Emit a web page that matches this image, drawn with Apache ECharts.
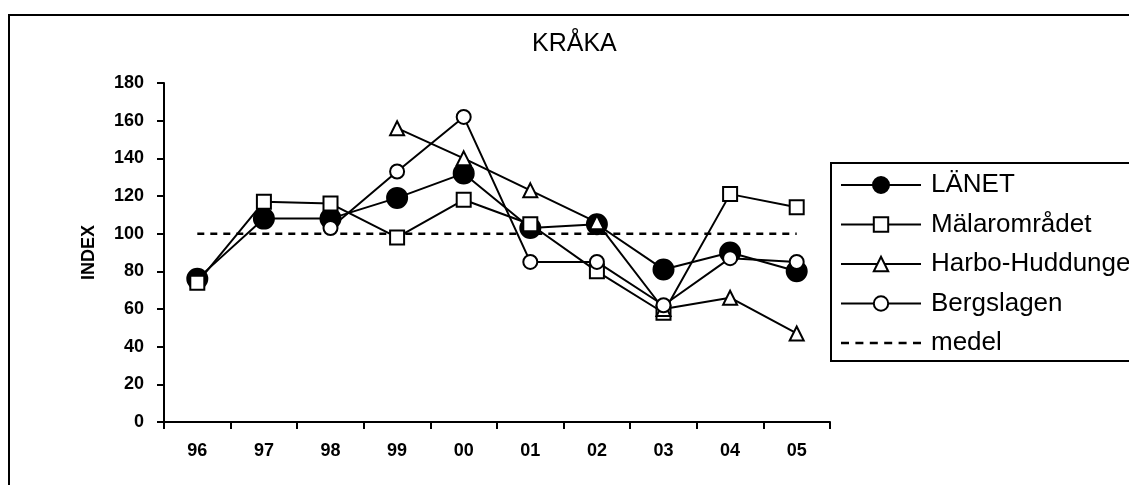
<!DOCTYPE html>
<html>
<head>
<meta charset="utf-8">
<script src="https://cdn.jsdelivr.net/npm/echarts@6/dist/echarts.min.js"></script>
<style>
  html, body { margin: 0; padding: 0; background: #fff; }
  #chart { width: 1129px; height: 485px; }
</style>
</head>
<body>
<div id="chart"></div>
<script>
// Year labels (two-digit) on the category axis
const years = ['96', '97', '98', '99', '00', '01', '02', '03', '04', '05'];

// Index values per area
const lanet         = [76, 108, 108, 119, 132, 103, 105, 81, 90, 80];
const malaromradet  = [74, 117, 116, 98, 118, 105, 80, 58, 121, 114];
const harboHuddunge = [null, null, null, 156, 140, 123, 106, 60, 66, 47];
const bergslagen    = [null, null, 103, 133, 162, 85, 85, 62, 87, 85];
const medel         = [100, 100, 100, 100, 100, 100, 100, 100, 100, 100];

// Value axis range
const yMin = 0, yMax = 180, yStep = 20;

const FONT = 'Liberation Sans, Arial, sans-serif';

// Dashed legend sample for the mean line
const dashIcon = 'path://M0,0h8v2.5h-8z M14.4,0h8v2.5h-8z M28.8,0h8v2.5h-8z M43.2,0h8v2.5h-8z M57.6,0h8v2.5h-8z M72,0h8v2.5h-8z';
// Line with a large filled dot for the county series
const dotIcon = 'path://M0,8h32v2h-32z M48,8h32v2h-32z M31,9a9,9 0 1,1 18,0a9,9 0 1,1 -18,0z';

function lineSeries(name, data, symbol, size, z) {
  return {
    name: name,
    type: 'line',
    data: data,
    symbol: symbol,
    symbolSize: size,
    showSymbol: true,
    connectNulls: false,
    z: z,
    lineStyle: { color: '#000', width: 2 },
    itemStyle: { color: '#000', borderColor: '#000', borderWidth: 2 },
    emphasis: { disabled: true }
  };
}

const chart = echarts.init(document.getElementById('chart'), null, { renderer: 'canvas' });

chart.setOption({
  animation: false,
  backgroundColor: '#fff',
  textStyle: { fontFamily: FONT },
  title: {
    text: 'KRÅKA',
    left: 532,
    top: 32,
    padding: 0,
    textStyle: { fontFamily: FONT, fontSize: 25, fontWeight: 'normal', color: '#000' }
  },
  grid: { left: 164, right: 299, top: 83, bottom: 63 },
  legend: {
    orient: 'vertical',
    left: 840,
    top: 172,
    padding: 0,
    itemWidth: 80,
    itemHeight: 18,
    itemGap: 13.5,
    selectedMode: false,
    textStyle: { fontFamily: FONT, fontSize: 26, color: '#000', lineHeight: 26, padding: [0, 0, 0, 5] },
    data: [
      { name: 'LÄNET', icon: dotIcon, itemStyle: { color: '#000', borderWidth: 0 } },
      { name: 'Mälarområdet' },
      { name: 'Harbo-Huddunge' },
      { name: 'Bergslagen' },
      { name: 'medel', icon: dashIcon, itemStyle: { color: '#000', borderWidth: 0 } }
    ]
  },
  xAxis: {
    type: 'category',
    data: years,
    boundaryGap: true,
    axisLine: { lineStyle: { color: '#000', width: 2 } },
    axisTick: { show: true, length: 7, interval: 0, lineStyle: { color: '#000', width: 2 } },
    axisLabel: { margin: 20, fontFamily: FONT, fontSize: 18, fontWeight: 'bold', color: '#000' },
    splitLine: { show: false }
  },
  yAxis: {
    type: 'value',
    min: yMin,
    max: yMax,
    interval: yStep,
    name: 'INDEX',
    nameLocation: 'middle',
    nameRotate: 90,
    nameGap: 66,
    nameTextStyle: { fontFamily: FONT, fontSize: 18, fontWeight: 'bold', color: '#000' },
    axisLine: { show: true, lineStyle: { color: '#000', width: 2 } },
    axisTick: { show: true, length: 7, lineStyle: { color: '#000', width: 2 } },
    axisLabel: { margin: 20, fontFamily: FONT, fontSize: 18, fontWeight: 'bold', color: '#000' },
    splitLine: { show: false }
  },
  graphic: [
    // Chart frame
    { type: 'rect', silent: true, z: -10,
      shape: { x: 9, y: 15, width: 1300, height: 700 },
      style: { fill: 'none', stroke: '#000', lineWidth: 2 } },
    // Legend frame
    { type: 'rect', silent: true, z: -5,
      shape: { x: 831, y: 163, width: 400, height: 198 },
      style: { fill: '#fff', stroke: '#000', lineWidth: 2 } }
  ],
  series: [
    lineSeries('LÄNET', lanet, 'circle', 20, 2),
    lineSeries('Mälarområdet', malaromradet, 'emptyRect', 14, 3),
    lineSeries('Harbo-Huddunge', harboHuddunge, 'emptyTriangle', 14, 4),
    lineSeries('Bergslagen', bergslagen, 'emptyCircle', 14, 5),
    {
      name: 'medel',
      type: 'line',
      data: medel,
      symbol: 'none',
      z: 1,
      lineStyle: { color: '#000', width: 2.5, type: [7, 6] },
      itemStyle: { color: '#000', borderWidth: 0 },
      emphasis: { disabled: true }
    }
  ]
});
</script>
</body>
</html>
